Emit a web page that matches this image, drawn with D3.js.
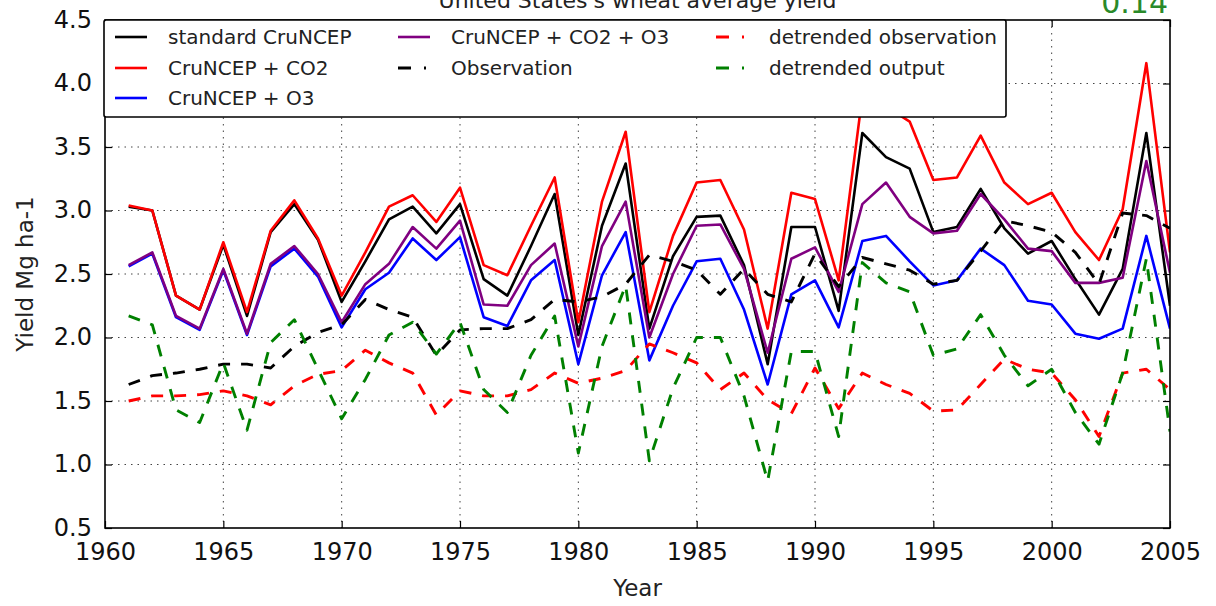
<!DOCTYPE html>
<html>
<head>
<meta charset="utf-8">
<script src="https://cdn.jsdelivr.net/npm/d3@7"></script>
<style>
  body { margin: 0; background: #fff; }
  svg { display: block; font-family: "DejaVu Sans", sans-serif; }
</style>
</head>
<body>
<svg id="chart" width="1216" height="606"></svg>
<script>
// years 1961..2005
var years = d3.range(1961, 2006);

var standardCru = [3.03, 3.00, 2.33, 2.22, 2.73, 2.17, 2.83, 3.05, 2.77, 2.28,
  2.60, 2.93, 3.03, 2.82, 3.05, 2.46, 2.33, 2.72, 3.13, 2.02,
  2.88, 3.37, 2.07, 2.64, 2.95, 2.96, 2.57, 1.79, 2.87, 2.87,
  2.21, 3.61, 3.42, 3.33, 2.83, 2.87, 3.17, 2.86, 2.66, 2.76,
  2.46, 2.18, 2.54, 3.61, 2.25];
var cruCO2 = [3.04, 3.00, 2.33, 2.22, 2.75, 2.20, 2.84, 3.08, 2.78, 2.33,
  2.67, 3.03, 3.12, 2.91, 3.18, 2.57, 2.49, 2.88, 3.26, 2.12,
  3.07, 3.62, 2.20, 2.80, 3.22, 3.24, 2.85, 2.07, 3.14, 3.09,
  2.45, 3.90, 3.82, 3.70, 3.24, 3.26, 3.59, 3.22, 3.05, 3.14,
  2.83, 2.61, 3.01, 4.16, 2.67];
var cruO3 = [2.56, 2.66, 2.16, 2.06, 2.53, 2.02, 2.56, 2.70, 2.48, 2.08,
  2.38, 2.51, 2.78, 2.61, 2.79, 2.16, 2.09, 2.45, 2.61, 1.79,
  2.49, 2.83, 1.82, 2.25, 2.60, 2.62, 2.22, 1.63, 2.34, 2.45,
  2.08, 2.76, 2.80, 2.60, 2.41, 2.45, 2.70, 2.57, 2.29, 2.26,
  2.03, 1.99, 2.07, 2.80, 2.07];
var cruCO2O3 = [2.57, 2.67, 2.17, 2.07, 2.54, 2.03, 2.58, 2.72, 2.50, 2.12,
  2.42, 2.58, 2.87, 2.70, 2.92, 2.26, 2.25, 2.57, 2.74, 1.93,
  2.72, 3.07, 2.00, 2.50, 2.88, 2.89, 2.54, 1.88, 2.62, 2.71,
  2.36, 3.05, 3.22, 2.95, 2.82, 2.84, 3.13, 2.93, 2.70, 2.68,
  2.43, 2.43, 2.47, 3.39, 2.51];
var observation = [1.63, 1.70, 1.72, 1.75, 1.79, 1.79, 1.76, 1.93, 2.04, 2.10,
  2.30, 2.22, 2.16, 1.86, 2.06, 2.07, 2.07, 2.14, 2.30, 2.28,
  2.32, 2.42, 2.65, 2.60, 2.53, 2.34, 2.54, 2.34, 2.28, 2.66,
  2.40, 2.63, 2.58, 2.53, 2.42, 2.45, 2.68, 2.92, 2.88, 2.83,
  2.67, 2.42, 2.98, 2.96, 2.86];
var detrendedObs = [1.50, 1.54, 1.54, 1.55, 1.58, 1.54, 1.47, 1.62, 1.71, 1.74,
  1.90, 1.80, 1.72, 1.39, 1.58, 1.54, 1.54, 1.59, 1.72, 1.64,
  1.68, 1.74, 1.95, 1.88, 1.80, 1.59, 1.72, 1.51, 1.40, 1.76,
  1.44, 1.72, 1.63, 1.56, 1.42, 1.43, 1.63, 1.83, 1.75, 1.72,
  1.51, 1.22, 1.72, 1.75, 1.59];
var detrendedOut = [2.17, 2.10, 1.43, 1.33, 1.80, 1.27, 1.96, 2.14, 1.75, 1.36,
  1.67, 2.02, 2.12, 1.87, 2.12, 1.59, 1.41, 1.86, 2.17, 1.09,
  1.93, 2.41, 1.03, 1.60, 2.00, 2.00, 1.54, 0.87, 1.89, 1.89,
  1.22, 2.59, 2.43, 2.36, 1.86, 1.91, 2.18, 1.86, 1.62, 1.75,
  1.41, 1.16, 1.72, 2.62, 1.26];

var xTicks = [1960, 1965, 1970, 1975, 1980, 1985, 1990, 1995, 2000, 2005];
var yTicks = [0.5, 1.0, 1.5, 2.0, 2.5, 3.0, 3.5, 4.0, 4.5];

var titleText = "United States's wheat average yield";
var corrText = '0.14';

var series = [
  {name: 'standard CruNCEP', values: standardCru, color: '#000000', dash: null},
  {name: 'CruNCEP + CO2', values: cruCO2, color: '#ff0000', dash: null},
  {name: 'CruNCEP + O3', values: cruO3, color: '#0000ff', dash: null},
  {name: 'CruNCEP + CO2 + O3', values: cruCO2O3, color: '#800080', dash: null},
  {name: 'Observation', values: observation, color: '#000000', dash: '12,11'},
  {name: 'detrended observation', values: detrendedObs, color: '#ff0000', dash: '12,11'},
  {name: 'detrended output', values: detrendedOut, color: '#008000', dash: '12,11'}
];
// matplotlib ncol=3 fills columns 3 / 2 / 2
var legendCol = [0, 0, 0, 1, 1, 2, 2];
var legendRow = [0, 1, 2, 0, 1, 0, 1];

var margins = {left: 105, top: 20, right: 46, bottom: 78};
var width = 1216 - margins.left - margins.right;
var height = 606 - margins.top - margins.bottom;

var svg = d3.select('#chart');

var xScale = d3.scaleLinear().domain([1960, 2005]).range([0, width]);
var yScale = d3.scaleLinear().domain([0.5, 4.5]).range([height, 0]);

var viewport = svg.append('g')
  .attr('class', 'viewport')
  .attr('transform', 'translate(' + margins.left + ', ' + margins.top + ')');

svg.append('defs').append('clipPath')
  .attr('id', 'plot-clip')
  .append('rect')
  .attr('width', width)
  .attr('height', height);

// dotted grid
viewport.append('g')
  .selectAll('line')
  .data(xTicks.slice(1, -1))
  .enter().append('line')
  .attr('x1', function(d) { return xScale(d); })
  .attr('x2', function(d) { return xScale(d); })
  .attr('y1', 0).attr('y2', height)
  .attr('stroke', '#444').attr('stroke-width', 1)
  .attr('stroke-dasharray', '1.5,5');
viewport.append('g')
  .selectAll('line')
  .data(yTicks.slice(1, -1))
  .enter().append('line')
  .attr('y1', function(d) { return yScale(d); })
  .attr('y2', function(d) { return yScale(d); })
  .attr('x1', 0).attr('x2', width)
  .attr('stroke', '#444').attr('stroke-width', 1)
  .attr('stroke-dasharray', '1.5,5');

// axes with inward ticks on all four sides
var tickFont = '24px';
var xAxis = viewport.append('g')
  .attr('transform', 'translate(0,' + height + ')')
  .call(d3.axisBottom(xScale).tickValues(xTicks).tickFormat(d3.format('d'))
    .tickSizeInner(-7).tickSizeOuter(0).tickPadding(15));
var yAxis = viewport.append('g')
  .call(d3.axisLeft(yScale).tickValues(yTicks).tickFormat(d3.format('.1f'))
    .tickSizeInner(-7).tickSizeOuter(0).tickPadding(13));
viewport.append('g')
  .call(d3.axisTop(xScale).tickValues(xTicks).tickFormat('').tickSizeInner(-7).tickSizeOuter(0));
viewport.append('g')
  .attr('transform', 'translate(' + width + ',0)')
  .call(d3.axisRight(yScale).tickValues(yTicks).tickFormat('').tickSizeInner(-7).tickSizeOuter(0));

viewport.selectAll('.domain').remove();
viewport.selectAll('.tick line').attr('stroke', '#000').attr('stroke-width', 1.2);
[xAxis, yAxis].forEach(function(a) {
  a.selectAll('text')
    .attr('fill', '#111')
    .style('font-size', tickFont)
    .style('font-family', '"DejaVu Sans", sans-serif');
});
yAxis.selectAll('text').attr('dy', '0.3em');
xAxis.selectAll('text').attr('dy', '0.72em');

// series lines
var line = d3.line()
  .x(function(d, i) { return xScale(years[i]); })
  .y(function(d) { return yScale(d); });

var lines = viewport.append('g').attr('clip-path', 'url(#plot-clip)');
lines.selectAll('path')
  .data(series)
  .enter().append('path')
  .attr('d', function(s) { return line(s.values); })
  .attr('fill', 'none')
  .attr('stroke', function(s) { return s.color; })
  .attr('stroke-width', function(s) { return s.dash ? 2.9 : 2.6; })
  .attr('stroke-dasharray', function(s) { return s.dash; })
  .attr('stroke-linejoin', 'round');

// plot frame
viewport.append('rect')
  .attr('width', width).attr('height', height)
  .attr('fill', 'none').attr('stroke', '#000').attr('stroke-width', 1.6);

// legend, three columns
var legendW = 902, legendH = 97;
var legend = viewport.append('g').attr('transform', 'translate(-1,0)');
legend.append('rect')
  .attr('width', legendW).attr('height', legendH)
  .attr('rx', 2)
  .attr('fill', '#fff').attr('stroke', '#000').attr('stroke-width', 1.6);

var colX = [11, 294, 612];
var rowY = [17, 48, 78];
var items = legend.selectAll('g.item')
  .data(series)
  .enter().append('g')
  .attr('transform', function(d, i) {
    return 'translate(' + colX[legendCol[i]] + ',' + rowY[legendRow[i]] + ')';
  });
items.append('line')
  .attr('x1', 0)
  .attr('x2', function(d) { return d.dash ? 28 : 32; })
  .attr('stroke', function(d) { return d.color; })
  .attr('stroke-width', function(d) { return d.dash ? 2.9 : 2.6; })
  .attr('stroke-dasharray', function(d) { return d.dash ? '13,13' : null; });
items.append('text')
  .attr('x', 53)
  .attr('dy', '0.36em')
  .attr('fill', '#222')
  .style('font-size', '20px')
  .text(function(d) { return d.name; });

// title, cut by the top edge as in the source figure
svg.append('text')
  .attr('x', margins.left + width / 2)
  .attr('y', 8)
  .attr('text-anchor', 'middle')
  .attr('fill', '#222')
  .style('font-size', '22px')
  .text(titleText);

svg.append('text')
  .attr('x', margins.left + width - 2)
  .attr('y', 13)
  .attr('text-anchor', 'end')
  .attr('fill', '#2a8a2a')
  .style('font-size', '30px')
  .text(corrText);

// axis labels
svg.append('text')
  .attr('x', margins.left + width / 2)
  .attr('y', 596)
  .attr('text-anchor', 'middle')
  .attr('fill', '#222')
  .style('font-size', '23px')
  .text('Year');

svg.append('text')
  .attr('transform', 'translate(33,' + (margins.top + height / 2) + ') rotate(-90)')
  .attr('text-anchor', 'middle')
  .attr('fill', '#222')
  .style('font-size', '23px')
  .text('Yield Mg ha-1');
</script>
</body>
</html>
